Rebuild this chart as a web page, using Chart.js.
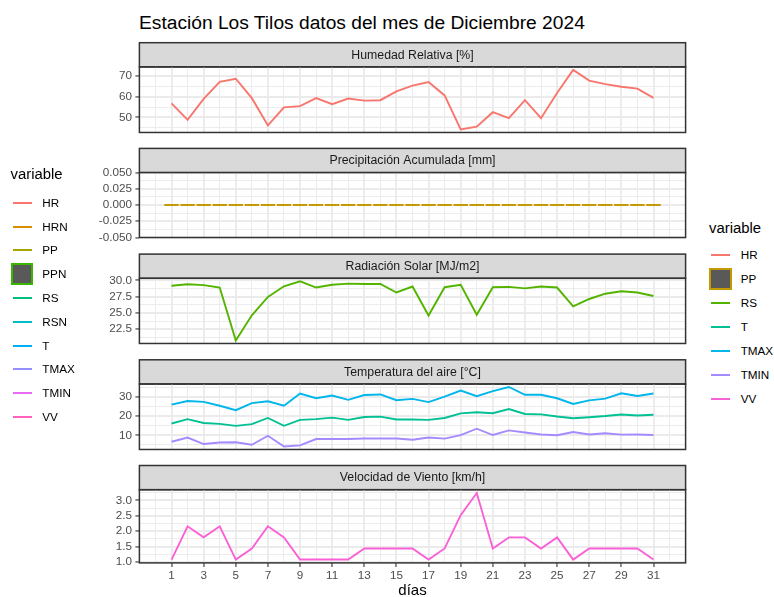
<!DOCTYPE html>
<html>
<head>
<meta charset="utf-8">
<script src="https://cdn.jsdelivr.net/npm/chart.js@4.4.1/dist/chart.umd.min.js"></script>
<style>
  html, body { margin: 0; padding: 0; background: #ffffff; overflow: hidden; width: 774px; height: 597px; }
  #page { position: relative; width: 774px; height: 597px; font-family: "Liberation Sans", Arial, sans-serif; color: #000; }
  #page canvas { position: absolute; left: 0; }
  .title { position: absolute; left: 139px; top: 12.3px; font-size: 19.2px; line-height: 22px; white-space: nowrap; }
  .lg-title { position: absolute; font-size: 14.9px; line-height: 18px; white-space: nowrap; }
  .lg-label { position: absolute; font-size: 11.7px; line-height: 14px; white-space: nowrap; }
  .lg-line { position: absolute; height: 2px; }
  .lg-box { position: absolute; box-sizing: border-box; border: 2px solid; background: #595959; }
</style>
</head>
<body>
<div id="page">
  <div class="title">Estación Los Tilos datos del mes de Diciembre 2024</div>
</div>
<script>
// ---- daily records, December 2024 ----
const days = [1, 2, 3, 4, 5, 6, 7, 8, 9, 10, 11, 12, 13, 14, 15, 16, 17, 18, 19, 20, 21, 22, 23, 24, 25, 26, 27, 28, 29, 30, 31];

// relative humidity [%]
const HR = [56.8, 48.8, 58.9, 67.2, 68.7, 59.3, 46.1, 54.8, 55.4, 59.3, 56.4, 59.1, 58.1, 58.3, 62.6, 65.4, 67.1, 60.6, 44.1, 45.5, 52.5, 49.6, 58.3, 49.6, 61.8, 73.0, 67.8, 66.1, 64.8, 63.9, 59.4];

// accumulated precipitation [mm]
const PP = [0, 0, 0, 0, 0, 0, 0, 0, 0, 0, 0, 0, 0, 0, 0, 0, 0, 0, 0, 0, 0, 0, 0, 0, 0, 0, 0, 0, 0, 0, 0];

// solar radiation [MJ/m2]
const RS = [29.18, 29.41, 29.27, 28.9, 20.77, 24.64, 27.45, 29.09, 29.86, 28.9, 29.32, 29.5, 29.45, 29.45, 28.14, 29.05, 24.6, 28.95, 29.32, 24.73, 28.95, 29.0, 28.77, 29.05, 28.9, 26.0, 27.14, 27.95, 28.32, 28.14, 27.6];

// air temperature [°C]
const T    = [16.2, 18.5, 16.5, 16.0, 15.0, 15.9, 19.1, 15.0, 18.1, 18.5, 19.3, 18.1, 19.6, 19.8, 18.3, 18.3, 18.1, 19.1, 21.5, 22.1, 21.6, 23.8, 21.2, 21.0, 19.9, 19.0, 19.5, 20.1, 20.9, 20.4, 20.8];
const TMAX = [26.1, 28.0, 27.5, 25.5, 23.2, 26.9, 27.8, 25.5, 31.9, 29.4, 30.8, 28.6, 31.1, 31.4, 28.4, 29.1, 27.4, 30.3, 33.4, 30.5, 33.1, 35.3, 31.2, 31.2, 29.4, 26.4, 28.3, 29.2, 32.0, 30.6, 31.9];
const TMIN = [6.7, 8.9, 5.5, 6.3, 6.4, 5.1, 9.8, 4.2, 4.8, 8.1, 8.1, 8.1, 8.4, 8.4, 8.4, 7.7, 8.9, 8.3, 10.1, 13.5, 10.2, 12.6, 11.5, 10.5, 10.1, 11.8, 10.5, 11.1, 10.4, 10.5, 10.2];

// wind speed [km/h]
const VV = [1.08, 2.16, 1.80, 2.16, 1.08, 1.44, 2.16, 1.80, 1.08, 1.08, 1.08, 1.08, 1.44, 1.44, 1.44, 1.44, 1.08, 1.44, 2.52, 3.24, 1.44, 1.80, 1.80, 1.44, 1.80, 1.08, 1.44, 1.44, 1.44, 1.44, 1.08];

// axis breaks and their labels
const dayTicks = [1, 3, 5, 7, 9, 11, 13, 15, 17, 19, 21, 23, 25, 27, 29, 31];
const dayTickLabels = ['1', '3', '5', '7', '9', '11', '13', '15', '17', '19', '21', '23', '25', '27', '29', '31'];
const hrTicks = [50, 60, 70];
const hrTickLabels = ['50', '60', '70'];
const ppTicks = [-0.05, -0.025, 0, 0.025, 0.05];
const ppTickLabels = ['-0.050', '-0.025', '0.000', '0.025', '0.050'];
const rsTicks = [22.5, 25, 27.5, 30];
const rsTickLabels = ['22.5', '25.0', '27.5', '30.0'];
const tTicks = [10, 20, 30];
const tTickLabels = ['10', '20', '30'];
const vvTicks = [1, 1.5, 2, 2.5, 3];
const vvTickLabels = ['1.0', '1.5', '2.0', '2.5', '3.0'];

// facet titles
const facetTitles = ['Humedad Relativa [%]', 'Precipitación Acumulada [mm]', 'Radiación Solar [MJ/m2]', 'Temperatura del aire [°C]', 'Velocidad de Viento [km/h]'];

// legend entries
const legendLeftNames  = ['HR', 'HRN', 'PP', 'PPN', 'RS', 'RSN', 'T', 'TMAX', 'TMIN', 'VV'];
const legendLeftColors = ['#F8766D', '#D89000', '#A3A500', '#39B600', '#00BF7D', '#00BFC4', '#00B0F6', '#9590FF', '#E76BF3', '#FF62BC'];
const legendRightNames  = ['HR', 'PP', 'RS', 'T', 'TMAX', 'TMIN', 'VV'];
const legendRightColors = ['#F8766D', '#C49A00', '#53B400', '#00C094', '#00B6EB', '#A58AFF', '#FB61D7'];
const colorOf = name => legendRightColors[legendRightNames.indexOf(name)];

// ---- layout ----
const FONT = '"Liberation Sans", Arial, sans-serif';
const PANEL_LEFT = 139.4, PANEL_RIGHT = 685.6;
const STRIP_TOP0 = 42.7, STRIP_H = 24.2, PLOT_H = 73.2, STEP = 105.7;
const CANVAS_W = 700;
const X_MIN = -1, X_MAX = 33;
const GRID = '#EBEBEB', INK = '#333333', AXIS_TEXT = '#4D4D4D';

const page = document.getElementById('page');

function near(list, v) { return list.some(m => Math.abs(m - v) < 1e-9); }

function yLimits(values) {
  const lo = Math.min(...values), hi = Math.max(...values);
  if (hi - lo === 0) return [lo - 0.05, hi + 0.05];
  const e = (hi - lo) * 0.05;
  return [lo - e, hi + e];
}

function withMinors(majors, lo, hi) {
  const step = majors[1] - majors[0];
  const out = [majors[0] - step / 2];
  majors.forEach(m => { out.push(m); out.push(m + step / 2); });
  return out.filter(v => v >= lo - 1e-9 && v <= hi + 1e-9);
}

const xGrid = [];
for (let v = 0; v <= 32; v++) xGrid.push(v);

// strip header + panel border, ggplot-style
const facetPlugin = {
  id: 'facet',
  beforeDraw(chart, args, opts) {
    const { ctx, chartArea: a } = chart;
    const st = opts.stripTop;
    ctx.save();
    ctx.fillStyle = '#D9D9D9';
    ctx.fillRect(a.left, st, a.right - a.left, a.top - st);
    ctx.strokeStyle = INK;
    ctx.lineWidth = 1.5;
    ctx.strokeRect(a.left, st, a.right - a.left, a.top - st);
    ctx.fillStyle = '#1A1A1A';
    ctx.font = '12.3px ' + FONT;
    ctx.textAlign = 'center';
    ctx.textBaseline = 'middle';
    ctx.fillText(opts.text, (a.left + a.right) / 2, (st + a.top) / 2 + 0.5);
    ctx.restore();
  },
  afterDatasetsDraw(chart) {
    const { ctx, chartArea: a } = chart;
    ctx.save();
    ctx.strokeStyle = INK;
    ctx.lineWidth = 1.5;
    ctx.strokeRect(a.left, a.top, a.right - a.left, a.bottom - a.top);
    ctx.restore();
  }
};

function lineSet(values, name) {
  return {
    data: days.map((d, i) => ({ x: d, y: values[i] })),
    borderColor: colorOf(name),
    borderWidth: 1.9,
    pointRadius: 0,
    tension: 0,
    fill: false
  };
}

// zero-height columns: each one shows only as its outline, 0.9 day wide
function columnOutlineSet(values, name) {
  const pts = [];
  days.forEach((d, i) => {
    pts.push({ x: d - 0.45, y: values[i] });
    pts.push({ x: d + 0.45, y: values[i] });
    pts.push({ x: d + 0.5, y: null });
  });
  return {
    data: pts,
    borderColor: colorOf(name),
    borderWidth: 1.9,
    borderCapStyle: 'butt',
    pointRadius: 0,
    spanGaps: false,
    fill: false
  };
}

function makePanel(k, title, datasets, values, majors, majorLabels, showX) {
  const stripTop = STRIP_TOP0 + k * STEP;
  const plotTop = stripTop + STRIP_H;
  const plotBottom = plotTop + PLOT_H;
  const canvasTop = Math.floor(stripTop) - 2;
  const canvasBottom = showX ? 597 : Math.ceil(plotBottom) + 2;
  const canvasH = canvasBottom - canvasTop;
  const xAxisH = showX ? canvasBottom - plotBottom : 0;
  const padBottom = showX ? 0 : canvasBottom - plotBottom;

  const [lo, hi] = yLimits(values);
  const yGrid = withMinors(majors, lo, hi);

  const cv = document.createElement('canvas');
  cv.width = CANVAS_W;
  cv.height = canvasH;
  cv.style.top = canvasTop + 'px';
  cv.style.width = CANVAS_W + 'px';
  cv.style.height = canvasH + 'px';
  page.appendChild(cv);

  new Chart(cv, {
    type: 'line',
    data: { datasets },
    plugins: [facetPlugin],
    options: {
      responsive: false,
      animation: false,
      devicePixelRatio: 1,
      events: [],
      layout: { padding: { left: 0, right: CANVAS_W - PANEL_RIGHT, top: plotTop - canvasTop, bottom: padBottom } },
      plugins: {
        legend: { display: false },
        tooltip: { enabled: false },
        facet: { text: title, stripTop: stripTop - canvasTop }
      },
      scales: {
        x: {
          type: 'linear',
          min: X_MIN,
          max: X_MAX,
          afterBuildTicks: s => { s.ticks = xGrid.map(v => ({ value: v })); },
          afterFit: s => { s.height = xAxisH; },
          ticks: {
            display: showX,
            autoSkip: false,
            maxRotation: 0,
            padding: 1.5,
            color: AXIS_TEXT,
            font: { family: FONT, size: 11.7 },
            callback: v => { const i = dayTicks.indexOf(v); return i >= 0 ? dayTickLabels[i] : ''; }
          },
          grid: {
            color: GRID,
            lineWidth: c => near(dayTicks, c.tick.value) ? 1.9 : 0.95,
            drawTicks: showX,
            tickLength: 4,
            tickWidth: 1.1,
            tickColor: c => near(dayTicks, c.tick.value) ? INK : 'rgba(0,0,0,0)'
          },
          border: { display: false },
          title: {
            display: showX,
            text: 'días',
            color: '#000',
            font: { family: FONT, size: 15, lineHeight: 0.8 },
            padding: 0
          }
        },
        y: {
          type: 'linear',
          min: lo,
          max: hi,
          afterBuildTicks: s => { s.ticks = yGrid.map(v => ({ value: v })); },
          afterFit: s => { s.width = PANEL_LEFT; },
          ticks: {
            autoSkip: false,
            padding: 3.5,
            color: AXIS_TEXT,
            font: { family: FONT, size: 11.7 },
            callback: v => { const i = majors.findIndex(m => Math.abs(m - v) < 1e-9); return i >= 0 ? majorLabels[i] : ''; }
          },
          grid: {
            color: GRID,
            lineWidth: c => near(majors, c.tick.value) ? 1.9 : 0.95,
            drawTicks: true,
            tickLength: 4,
            tickWidth: 1.1,
            tickColor: c => near(majors, c.tick.value) ? INK : 'rgba(0,0,0,0)'
          },
          border: { display: false }
        }
      }
    }
  });
}

makePanel(0, facetTitles[0], [lineSet(HR, 'HR')], HR, hrTicks, hrTickLabels, false);
makePanel(1, facetTitles[1], [columnOutlineSet(PP, 'PP')], PP, ppTicks, ppTickLabels, false);
makePanel(2, facetTitles[2], [lineSet(RS, 'RS')], RS, rsTicks, rsTickLabels, false);
makePanel(3, facetTitles[3], [lineSet(TMAX, 'TMAX'), lineSet(T, 'T'), lineSet(TMIN, 'TMIN')], T.concat(TMAX, TMIN), tTicks, tTickLabels, false);
makePanel(4, facetTitles[4], [lineSet(VV, 'VV')], VV, vvTicks, vvTickLabels, true);

// ---- legends ----
function addEl(cls, css, text) {
  const el = document.createElement('div');
  el.className = cls;
  Object.assign(el.style, css);
  if (text !== undefined) el.textContent = text;
  page.appendChild(el);
  return el;
}

function buildLegend(spec) {
  addEl('lg-title', { left: spec.titleX + 'px', top: (spec.titleBaseline - 14.2) + 'px' }, 'variable');
  spec.names.forEach((name, i) => {
    const cy = spec.row0 + i * spec.rowStep;
    const col = spec.colors[i];
    if (name === spec.boxName) {
      const s = spec.boxSize;
      addEl('lg-box', { left: (spec.keyCx - s / 2) + 'px', top: (cy - s / 2) + 'px', width: s + 'px', height: s + 'px', borderColor: col });
    } else {
      addEl('lg-line', { left: spec.keyX0 + 'px', top: (cy - 1) + 'px', width: (spec.keyX1 - spec.keyX0) + 'px', background: col });
    }
    addEl('lg-label', { left: spec.labelX + 'px', top: (cy - 6.86) + 'px' }, name);
  });
}

buildLegend({
  names: legendLeftNames, colors: legendLeftColors, boxName: 'PPN',
  titleX: 10.5, titleBaseline: 179.5, row0: 202.7, rowStep: 23.8,
  keyX0: 12.7, keyX1: 32, keyCx: 22, boxSize: 22.6, labelX: 42.3
});
buildLegend({
  names: legendRightNames, colors: legendRightColors, boxName: 'PP',
  titleX: 709, titleBaseline: 233.5, row0: 255, rowStep: 23.95,
  keyX0: 711, keyX1: 730, keyCx: 720.5, boxSize: 22.7, labelX: 740.7
});
</script>
</body>
</html>
